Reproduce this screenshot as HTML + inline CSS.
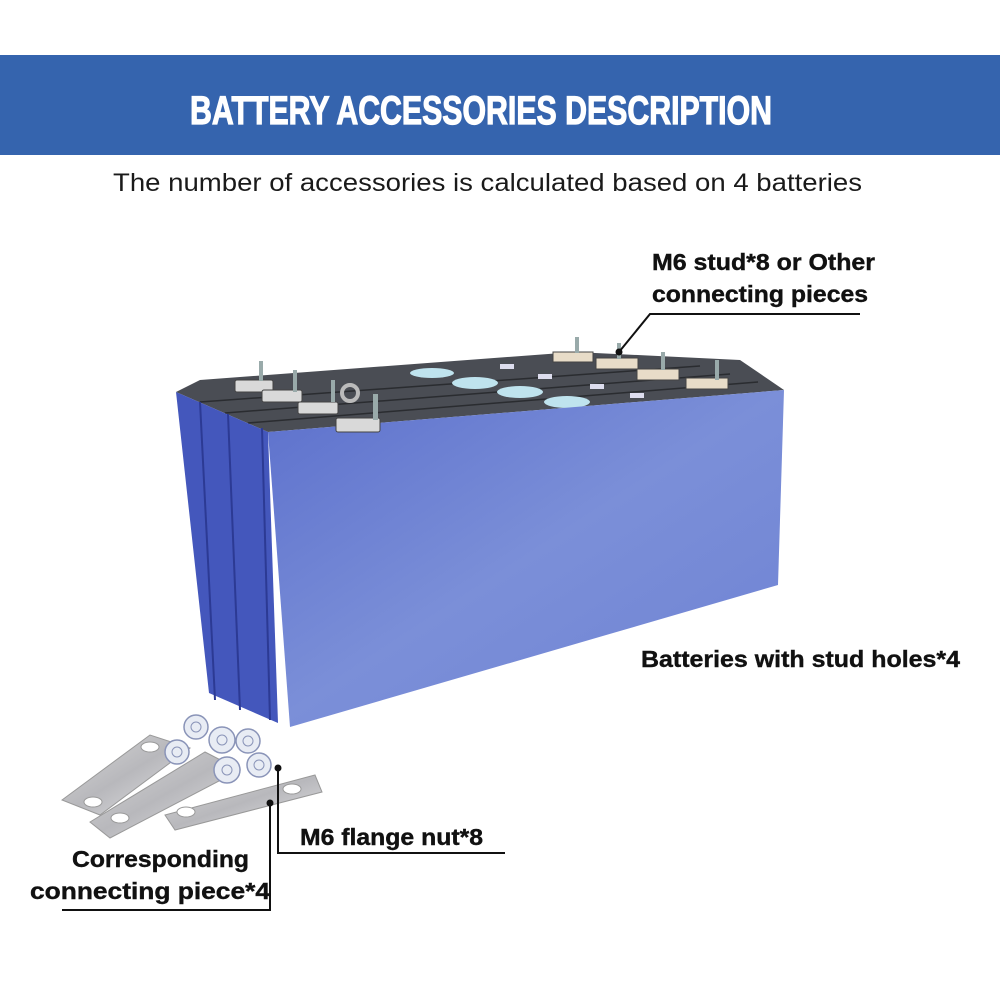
<!DOCTYPE html>
<html><head><meta charset="utf-8"><style>
html,body{margin:0;padding:0;background:#fff}
svg{display:block}
text{font-family:"Liberation Sans",Arial,sans-serif}
</style></head><body>
<svg width="1000" height="1000" viewBox="0 0 1000 1000" xmlns="http://www.w3.org/2000/svg">
<defs>
<linearGradient id="fr" x1="0" y1="0" x2="1" y2="1">
<stop offset="0" stop-color="#5c70cc"/><stop offset="0.5" stop-color="#7b8fd8"/><stop offset="1" stop-color="#6e82d4"/>
</linearGradient>
<linearGradient id="pl" x1="0" y1="0" x2="1" y2="1">
<stop offset="0" stop-color="#d8d8d8"/><stop offset="0.5" stop-color="#b8b8bc"/><stop offset="1" stop-color="#e4e4e6"/>
</linearGradient>
</defs>
<rect x="0" y="55" width="1000" height="100" fill="#3564ae"/>
<text x="190" y="124" fill="#fff" font-size="40" font-weight="bold" stroke="#fff" stroke-width="1.2" textLength="582" lengthAdjust="spacingAndGlyphs">BATTERY ACCESSORIES DESCRIPTION</text>
<text x="113" y="191" fill="#1a1a1a" font-size="25" textLength="749" lengthAdjust="spacingAndGlyphs">The number of accessories is calculated based on 4 batteries</text>

<!-- top face -->
<polygon points="176,392 268,432 784,390 740,360 575,352 200,380" fill="#4a4d54"/>
<line x1="200" y1="402" x2="700" y2="366" stroke="#2a2c30" stroke-width="1.5"/>
<line x1="225" y1="413" x2="730" y2="374" stroke="#2a2c30" stroke-width="1.5"/>
<line x1="248" y1="423" x2="758" y2="382" stroke="#2a2c30" stroke-width="1.5"/>
<ellipse cx="432" cy="373" rx="22" ry="5" fill="#bfe3ee"/>
<ellipse cx="475" cy="383" rx="23" ry="6" fill="#bfe3ee"/>
<ellipse cx="520" cy="392" rx="23" ry="6" fill="#bfe3ee"/>
<ellipse cx="567" cy="402" rx="23" ry="6" fill="#bfe3ee"/>
<rect x="500" y="364" width="14" height="5" fill="#dde"/><rect x="538" y="374" width="14" height="5" fill="#dde"/>
<rect x="590" y="384" width="14" height="5" fill="#dde"/><rect x="630" y="393" width="14" height="5" fill="#dde"/>
<!-- side strips -->
<polygon points="176,392 268,432 278,723 209,693" fill="#4457bc"/>
<line x1="200" y1="402" x2="215" y2="700" stroke="#2c3a94" stroke-width="2"/>
<line x1="228" y1="414" x2="240" y2="710" stroke="#2c3a94" stroke-width="2"/>
<line x1="262" y1="428" x2="270" y2="720" stroke="#2c3a94" stroke-width="2"/>
<!-- front -->
<polygon points="268,432 784,390 778,585 290,727" fill="url(#fr)"/>
<!-- terminals -->
<g fill="#d9d9d9" stroke="#444" stroke-width="1">
<rect x="235" y="380" width="38" height="12" rx="2"/><rect x="262" y="390" width="40" height="12" rx="2"/>
<rect x="298" y="402" width="40" height="12" rx="2"/><rect x="336" y="418" width="44" height="14" rx="2"/>
<rect x="553" y="352" width="40" height="10" fill="#e8dcc8"/><rect x="596" y="358" width="42" height="11" fill="#e8dcc8"/>
<rect x="637" y="369" width="42" height="11" fill="#e8dcc8"/><rect x="686" y="378" width="42" height="11" fill="#e8dcc8"/>
</g>
<g fill="#9aa" >
<rect x="259" y="361" width="4" height="20"/><rect x="293" y="370" width="4" height="22"/>
<rect x="331" y="380" width="4" height="22"/><rect x="373" y="394" width="5" height="26"/>
<rect x="575" y="337" width="4" height="16"/><rect x="617" y="343" width="4" height="16"/>
<rect x="661" y="352" width="4" height="18"/><rect x="715" y="360" width="4" height="20"/>
</g>
<circle cx="350" cy="393" r="8" fill="none" stroke="#bbb" stroke-width="4"/>

<!-- plates & nuts -->
<g stroke="#999" stroke-width="1">
<polygon points="62,800 150,735 190,748 100,815" fill="url(#pl)"/>
<polygon points="90,822 205,752 240,770 110,838" fill="url(#pl)"/>
<polygon points="165,815 315,775 322,792 175,830" fill="url(#pl)"/>
</g>
<g fill="#fff" stroke="#999"><ellipse cx="93" cy="802" rx="9" ry="5"/><ellipse cx="120" cy="818" rx="9" ry="5"/><ellipse cx="186" cy="812" rx="9" ry="5"/><ellipse cx="292" cy="789" rx="9" ry="5"/><ellipse cx="150" cy="747" rx="9" ry="5"/></g>
<g fill="#e8ecf4" stroke="#8a94b8" stroke-width="1.5">
<circle cx="196" cy="727" r="12"/><circle cx="222" cy="740" r="13"/><circle cx="248" cy="741" r="12"/>
<circle cx="177" cy="752" r="12"/><circle cx="227" cy="770" r="13"/><circle cx="259" cy="765" r="12"/>
</g>
<g fill="none" stroke="#8a94b8"><circle cx="196" cy="727" r="5"/><circle cx="222" cy="740" r="5"/><circle cx="248" cy="741" r="5"/><circle cx="177" cy="752" r="5"/><circle cx="227" cy="770" r="5"/><circle cx="259" cy="765" r="5"/></g>

<!-- labels -->
<g stroke="#111" stroke-width="2" fill="none">
<polyline points="619,352 650,314 860,314"/>
<polyline points="278,768 278,853 505,853"/>
<polyline points="270,803 270,910 62,910"/>
</g>
<g fill="#111"><circle cx="619" cy="352" r="3.5"/><circle cx="278" cy="768" r="3.5"/><circle cx="270" cy="803" r="3.5"/></g>
<g font-weight="bold" font-size="23" fill="#111" stroke="#111" stroke-width="0.4">
<text x="652" y="270" textLength="223" lengthAdjust="spacingAndGlyphs">M6 stud*8 or Other</text>
<text x="652" y="302" textLength="216" lengthAdjust="spacingAndGlyphs">connecting pieces</text>
<text x="641" y="667" textLength="319" lengthAdjust="spacingAndGlyphs">Batteries with stud holes*4</text>
<text x="300" y="845" textLength="183" lengthAdjust="spacingAndGlyphs">M6 flange nut*8</text>
<text x="72" y="867" textLength="177" lengthAdjust="spacingAndGlyphs">Corresponding</text>
<text x="30" y="899" textLength="240" lengthAdjust="spacingAndGlyphs">connecting piece*4</text>
</g>
</svg>
</body></html>
